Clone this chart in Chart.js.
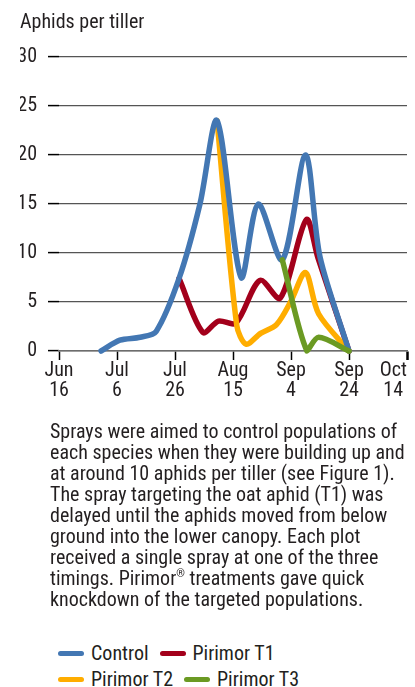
<!DOCTYPE html>
<html>
<head>
<meta charset="utf-8">
<title>Aphids per tiller</title>
<script src="https://cdn.jsdelivr.net/npm/chart.js@4.4.1/dist/chart.umd.min.js"></script>
<style>
  html, body { margin: 0; padding: 0; background: #fff; }
  body {
    width: 415px; height: 687px; position: relative; overflow: hidden;
    font-family: 'Roboto Condensed', Roboto, sans-serif;
    font-stretch: condensed;
    color: #231f20;
  }
  #chart { position: absolute; left: 0; top: 0; }
  #note {
    position: absolute; left: 50px; top: 421px; margin: 0;
    font-size: 20px; line-height: 21px; white-space: nowrap;
  }
  #note sup { font-size: 11px; line-height: 0; vertical-align: 8px; }
  #legend {
    position: absolute; left: 58px; top: 640px; width: 280px;
    display: flex; flex-wrap: wrap; font-size: 20px;
  }
  #legend .item { display: flex; align-items: center; height: 26px; margin-right: 11px; }
  #legend .swatch { width: 26px; height: 5px; border-radius: 3px; margin-right: 7px; }
</style>
</head>
<body>
<canvas id="chart" width="415" height="420"></canvas>
<p id="note">
  Sprays were aimed to control populations of<br>
  each species when they were building up and<br>
  at around 10 aphids per tiller (see Figure 1).<br>
  The spray targeting the oat aphid (T1) was<br>
  delayed until the aphids moved from below<br>
  ground into the lower canopy. Each plot<br>
  received a single spray at one of the three<br>
  timings. Pirimor<sup>®</sup> treatments gave quick<br>
  knockdown of the targeted populations.
</p>
<div id="legend"></div>

<script>
const FONT = "'Roboto Condensed', Roboto, sans-serif"
const INK = '#231f20'

// Days counted from 16 June, a tick every 20 days
const tickDays = [0, 20, 40, 60, 80, 100, 120]
const tickLabels = [
  ["Jun", "16"], ["Jul", "6"], ["Jul", "26"], ["Aug", "15"],
  ["Sep", "4"], ["Sep", "24"], ["Oct      ", "14      "]
]

// Aphids per tiller
const controlDays = [14.5, 21, 28, 33.5, 41.4, 48.6, 54.5, 62.8, 68.7, 77, 85, 90, 100]
const controlAphids = [0, 1.1, 1.4, 2.0, 7.4, 15, 23.5, 7.5, 15, 9.3, 20, 9.6, 0]

const t1Days = [41.4, 49.6, 55, 61, 69.3, 76.3, 85.3, 89.3, 100]
const t1Aphids = [7.4, 1.9, 3.05, 2.85, 7.2, 5.4, 13.4, 9.5, 0]

const t2Days = [54.5, 61.3, 64.5, 69.5, 75, 80, 85, 89.5, 100]
const t2Aphids = [23.5, 2.6, 0.7, 1.8, 2.7, 5.1, 8, 3.8, 0]

const t3Days = [77, 85.5, 89.5, 100]
const t3Aphids = [9.3, 0, 1.4, 0]

const seriesNames = ["Control", "Pirimor T1", "Pirimor T2", "Pirimor T3"]
const seriesColors = ['#4377b3', '#a3001b', '#ffad00', '#6b9a23']
// Drawing order: green on top, then blue, yellow, red at the bottom
const seriesOrder = [1, 3, 2, 0]

// Pair up days and values into points
function toPoints(days, values) {
  return days.map((d, i) => ({ x: d, y: values[i] }))
}

const allSeries = [
  toPoints(controlDays, controlAphids),
  toPoints(t1Days, t1Aphids),
  toPoints(t2Days, t2Aphids),
  toPoints(t3Days, t3Aphids)
]

const datasets = allSeries.map((points, i) => ({
  label: seriesNames[i],
  data: points,
  borderColor: seriesColors[i],
  backgroundColor: seriesColors[i],
  borderWidth: 5.5,
  borderCapStyle: 'round',
  borderJoinStyle: 'round',
  pointRadius: 0,
  tension: 0.3,
  fill: false,
  clip: false,
  order: seriesOrder[i]
}))

const chart = new Chart(document.getElementById('chart'), {
  type: 'line',
  data: { datasets: datasets },
  options: {
    responsive: false,
    animation: false,
    layout: { padding: { left: 20, right: 8, top: 0, bottom: 9 } },
    plugins: {
      legend: { display: false },
      tooltip: { enabled: false },
      title: {
        display: true,
        text: 'Aphids per tiller',
        align: 'start',
        color: INK,
        font: { family: FONT, size: 20, weight: 'normal', lineHeight: 1.2 },
        padding: { top: 11, bottom: 22 }
      }
    },
    scales: {
      x: {
        type: 'linear',
        min: 0,
        max: 120,
        afterFit: (scale) => {
          scale.height = 60
          scale.paddingLeft = 0
          scale.paddingRight = 0
        },
        afterBuildTicks: (scale) => {
          scale.ticks = tickDays.map(v => ({ value: v }))
        },
        ticks: {
          autoSkip: false,
          maxRotation: 0,
          padding: 1,
          color: INK,
          font: { family: FONT, size: 20, lineHeight: '20px' },
          callback: (value) => tickLabels[tickDays.indexOf(value)]
        },
        grid: {
          drawOnChartArea: false,
          drawTicks: true,
          tickLength: 9,
          tickColor: '#000',
          tickWidth: (ctx) => ctx.index === tickDays.length - 1 ? 2.5 : 1.5
        },
        border: { display: true, color: '#6d6d6d', width: 1.5 }
      },
      y: {
        min: 0,
        max: 30,
        afterFit: (scale) => {
          scale.width = 39
          scale.paddingTop = 0
          scale.paddingBottom = 0
        },
        ticks: {
          stepSize: 5,
          padding: 11,
          color: INK,
          font: { family: FONT, size: 20 }
        },
        grid: {
          color: '#555',
          lineWidth: 1.2,
          tickLength: 11,
          tickColor: '#000',
          tickWidth: 1.5
        },
        border: { display: false }
      }
    }
  }
})

// Legend built from the chart's own datasets, in dataset order
const legendBox = document.getElementById('legend')
chart.data.datasets.forEach((ds) => {
  const item = document.createElement('div')
  item.className = 'item'
  const swatch = document.createElement('span')
  swatch.className = 'swatch'
  swatch.style.background = ds.borderColor
  const text = document.createElement('span')
  text.textContent = ds.label
  item.appendChild(swatch)
  item.appendChild(text)
  legendBox.appendChild(item)
})
</script>
</body>
</html>
